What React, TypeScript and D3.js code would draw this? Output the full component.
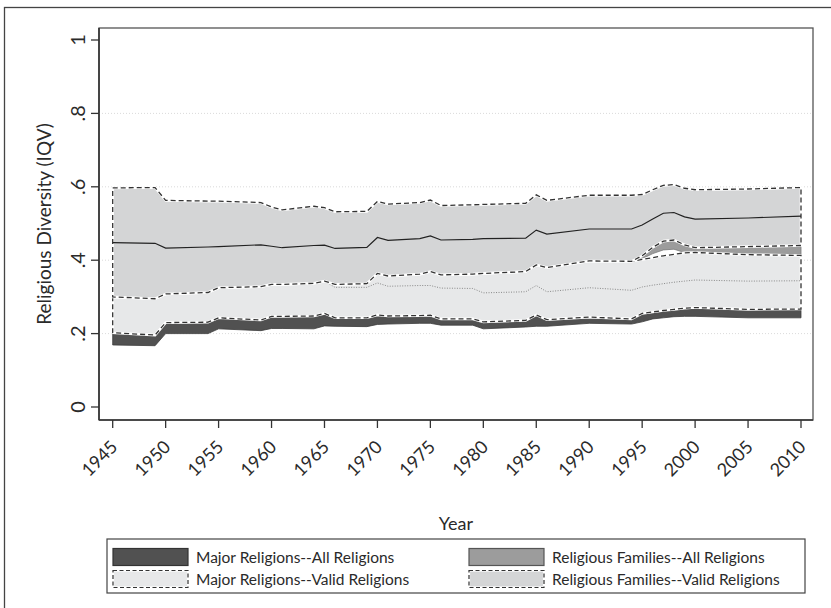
import React from 'react';
import * as d3 from 'd3';

const years = [1945, 1949, 1950, 1954, 1955, 1959, 1960, 1961, 1964, 1965, 1966, 1969, 1970, 1971, 1974, 1975, 1976, 1979, 1980, 1984, 1985, 1986, 1990, 1994, 1995, 1996, 1997, 1998, 1999, 2000, 2005, 2010];

// Religious Families -- Valid Religions (band + mean)
const rfvHi = [0.597, 0.598, 0.563, 0.561, 0.561, 0.557, 0.545, 0.537, 0.547, 0.543, 0.532, 0.533, 0.560, 0.553, 0.557, 0.564, 0.549, 0.551, 0.552, 0.555, 0.578, 0.563, 0.577, 0.577, 0.579, 0.592, 0.604, 0.606, 0.596, 0.592, 0.594, 0.598];
const rfvMean = [0.448, 0.446, 0.433, 0.436, 0.437, 0.442, 0.438, 0.434, 0.440, 0.441, 0.432, 0.435, 0.462, 0.454, 0.459, 0.466, 0.455, 0.457, 0.459, 0.460, 0.482, 0.471, 0.485, 0.485, 0.496, 0.512, 0.528, 0.530, 0.518, 0.512, 0.515, 0.520];
const rfvLo = [0.300, 0.295, 0.308, 0.312, 0.325, 0.328, 0.334, 0.334, 0.337, 0.343, 0.334, 0.336, 0.364, 0.357, 0.362, 0.369, 0.360, 0.362, 0.364, 0.369, 0.387, 0.380, 0.398, 0.397, 0.412, 0.435, 0.452, 0.455, 0.442, 0.434, 0.437, 0.440];

// Religious Families -- All Religions
const rfaHi = [0.290, 0.286, 0.298, 0.302, 0.315, 0.318, 0.324, 0.324, 0.327, 0.333, 0.324, 0.326, 0.354, 0.347, 0.352, 0.359, 0.350, 0.352, 0.354, 0.359, 0.377, 0.370, 0.388, 0.397, 0.412, 0.435, 0.452, 0.455, 0.442, 0.434, 0.437, 0.440];
const rfaLo = [0.270, 0.266, 0.278, 0.282, 0.295, 0.298, 0.304, 0.304, 0.307, 0.313, 0.304, 0.306, 0.334, 0.327, 0.332, 0.339, 0.330, 0.332, 0.334, 0.339, 0.357, 0.350, 0.368, 0.390, 0.404, 0.418, 0.428, 0.430, 0.421, 0.416, 0.410, 0.408];

// Major Religions -- Valid Religions (band + mean)
const mrvHi = [0.300, 0.295, 0.308, 0.312, 0.325, 0.328, 0.334, 0.334, 0.337, 0.343, 0.334, 0.336, 0.364, 0.357, 0.362, 0.369, 0.360, 0.362, 0.364, 0.369, 0.387, 0.380, 0.398, 0.397, 0.402, 0.407, 0.412, 0.416, 0.420, 0.421, 0.415, 0.413];
const mrvMean = [0.305, 0.300, 0.313, 0.317, 0.330, 0.333, 0.339, 0.339, 0.342, 0.343, 0.326, 0.326, 0.338, 0.329, 0.331, 0.331, 0.324, 0.323, 0.311, 0.314, 0.331, 0.314, 0.325, 0.318, 0.327, 0.332, 0.336, 0.340, 0.343, 0.346, 0.343, 0.344];
const mrvLo = [0.2025, 0.196, 0.230, 0.231, 0.243, 0.237, 0.247, 0.247, 0.248, 0.255, 0.243, 0.243, 0.251, 0.248, 0.249, 0.250, 0.240, 0.240, 0.232, 0.236, 0.251, 0.238, 0.245, 0.240, 0.255, 0.259, 0.263, 0.266, 0.269, 0.271, 0.266, 0.267];

// Major Religions -- All Religions
const mraHi = [0.2025, 0.196, 0.230, 0.231, 0.243, 0.237, 0.247, 0.247, 0.248, 0.258, 0.243, 0.243, 0.253, 0.248, 0.249, 0.250, 0.240, 0.240, 0.232, 0.236, 0.255, 0.238, 0.245, 0.240, 0.255, 0.259, 0.263, 0.266, 0.269, 0.271, 0.266, 0.267];
const mraLo = [0.169, 0.167, 0.200, 0.200, 0.213, 0.208, 0.214, 0.214, 0.213, 0.221, 0.220, 0.219, 0.225, 0.226, 0.228, 0.228, 0.223, 0.223, 0.213, 0.218, 0.220, 0.220, 0.228, 0.226, 0.232, 0.240, 0.243, 0.246, 0.247, 0.247, 0.243, 0.243];

const xTicks = [1945, 1950, 1955, 1960, 1965, 1970, 1975, 1980, 1985, 1990, 1995, 2000, 2005, 2010];
const yTicks = [0, 0.2, 0.4, 0.6, 0.8, 1];
const yTickLabels = ['0', '.2', '.4', '.6', '.8', '1'];
const gridValues = [0.2, 0.4, 0.6, 0.8];

const legendLabels = [
  'Major Religions--All Religions',
  'Religious Families--All Religions',
  'Major Religions--Valid Religions',
  'Religious Families--Valid Religions',
];

const FONT = "Lato, 'Open Sans', 'DejaVu Sans', sans-serif";
const C_MRA = '#515151';
const C_RFA = '#9c9c9c';
const C_MRV = '#e7e8e9';
const C_RFV = '#d4d5d6';
const DASH = '5 3';
const TXT = '#2a2a2a';

export default function App() {
  const PL = 99, PR = 813, PT = 28, PB = 420;
  const x = d3.scaleLinear().domain([1945, 2010]).range([112.7, 801]);
  const y = d3.scaleLinear().domain([0, 1]).range([407, 40]);

  const band = (lo: number[], hi: number[]) =>
    d3.area<number>()
      .x((d) => x(d))
      .y0((_, i) => y(lo[i]))
      .y1((_, i) => y(hi[i]))(years) as string;
  const line = (v: number[]) =>
    d3.line<number>()
      .x((d) => x(d))
      .y((_, i) => y(v[i]))(years) as string;

  const dashedArea = (d: string, fill: string) => (
    <g>
      <path d={d} fill={fill} stroke="none" />
      <path d={d} fill="none" stroke="#ffffff" strokeWidth={2.6} />
      <path d={d} fill="none" stroke="#333" strokeWidth={1.3} strokeDasharray={DASH} />
    </g>
  );

  const legX0 = 107, legX1 = 805, legY0 = 539, legY1 = 593;
  const colX = [113, 469];
  const rowY = [557, 579];
  const swW = 75, swH = 17;

  return (
    <svg width={831} height={608} style={{ position: 'absolute', left: 0, top: 0, background: '#fff' }} fontFamily={FONT}>
      <rect x={0} y={0} width={831} height={608} fill="#fff" />
      <rect x={4.5} y={7.5} width={840} height={620} fill="none" stroke="#444" strokeWidth={1.3} />
      {/* plot region */}
      <rect x={PL} y={PT} width={PR - PL} height={PB - PT} fill="#fff" stroke="#555" strokeWidth={1.3} />
      {gridValues.map((g) => (
        <line key={g} x1={PL} x2={PR} y1={y(g)} y2={y(g)} stroke="#d0d0d0" strokeWidth={0.8} strokeDasharray="1 2" />
      ))}
      {/* areas */}
      <path d={band(mraLo, mraHi)} fill={C_MRA} stroke="#3c3c3c" strokeWidth={0.8} />
      <path d={band(rfaLo, rfaHi)} fill={C_RFA} stroke="#7a7a7a" strokeWidth={0.8} />
      {dashedArea(band(mrvLo, mrvHi), C_MRV)}
      <path d={line(mrvMean)} fill="none" stroke="#888" strokeWidth={1} strokeDasharray="1 1.5" />
      {dashedArea(band(rfvLo, rfvHi), C_RFV)}
      <path d={line(rfvMean)} fill="none" stroke="#222" strokeWidth={1.2} />
      {/* axes */}
      <line x1={PL} x2={PL} y1={PT} y2={PB} stroke="#333" strokeWidth={1.6} />
      <line x1={PL} x2={PR} y1={PB} y2={PB} stroke="#333" strokeWidth={1.6} />
      {yTicks.map((t, i) => (
        <g key={t}>
          <line x1={91} x2={PL} y1={y(t)} y2={y(t)} stroke="#333" strokeWidth={1.3} />
          <text
            transform={`translate(85,${y(t)}) rotate(-90)`}
            textAnchor="middle"
            fontSize={20}
            fill={TXT}
          >
            {yTickLabels[i]}
          </text>
        </g>
      ))}
      {xTicks.map((t) => (
        <g key={t}>
          <line x1={x(t)} x2={x(t)} y1={PB} y2={428} stroke="#333" strokeWidth={1.3} />
          <text
            transform={`translate(${x(t) + 6},${448}) rotate(-45)`}
            textAnchor="end"
            fontSize={18}
            fill={TXT}
          >
            {t}
          </text>
        </g>
      ))}
      <text transform={`translate(51,${(PT + PB) / 2}) rotate(-90)`} textAnchor="middle" fontSize={19} fill={TXT}>
        Religious Diversity (IQV)
      </text>
      <text x={(PL + PR) / 2} y={530} textAnchor="middle" fontSize={18} fill={TXT}>
        Year
      </text>
      {/* legend */}
      <rect x={legX0} y={legY0} width={legX1 - legX0} height={legY1 - legY0} fill="#fff" stroke="#444" strokeWidth={1.2} />
      {legendLabels.map((lab, i) => {
        const cx = colX[i % 2];
        const cy = rowY[Math.floor(i / 2)];
        const fills = [C_MRA, C_RFA, C_MRV, C_RFV];
        const dashed = i >= 2;
        return (
          <g key={lab}>
            {dashed ? (
              <g>
                <rect x={cx} y={cy - swH / 2} width={swW} height={swH} fill={fills[i]} stroke="#fff" strokeWidth={2.2} />
                <rect x={cx} y={cy - swH / 2} width={swW} height={swH} fill="none" stroke="#333" strokeWidth={1.2} strokeDasharray="4 2.5" />
              </g>
            ) : (
              <rect x={cx} y={cy - swH / 2} width={swW} height={swH} fill={fills[i]} stroke={i === 0 ? '#333' : '#555'} strokeWidth={1.2} />
            )}
            <text x={cx + swW + 8} y={cy} dominantBaseline="central" fontSize={15.5} fill={TXT}>
              {lab}
            </text>
          </g>
        );
      })}
    </svg>
  );
}
